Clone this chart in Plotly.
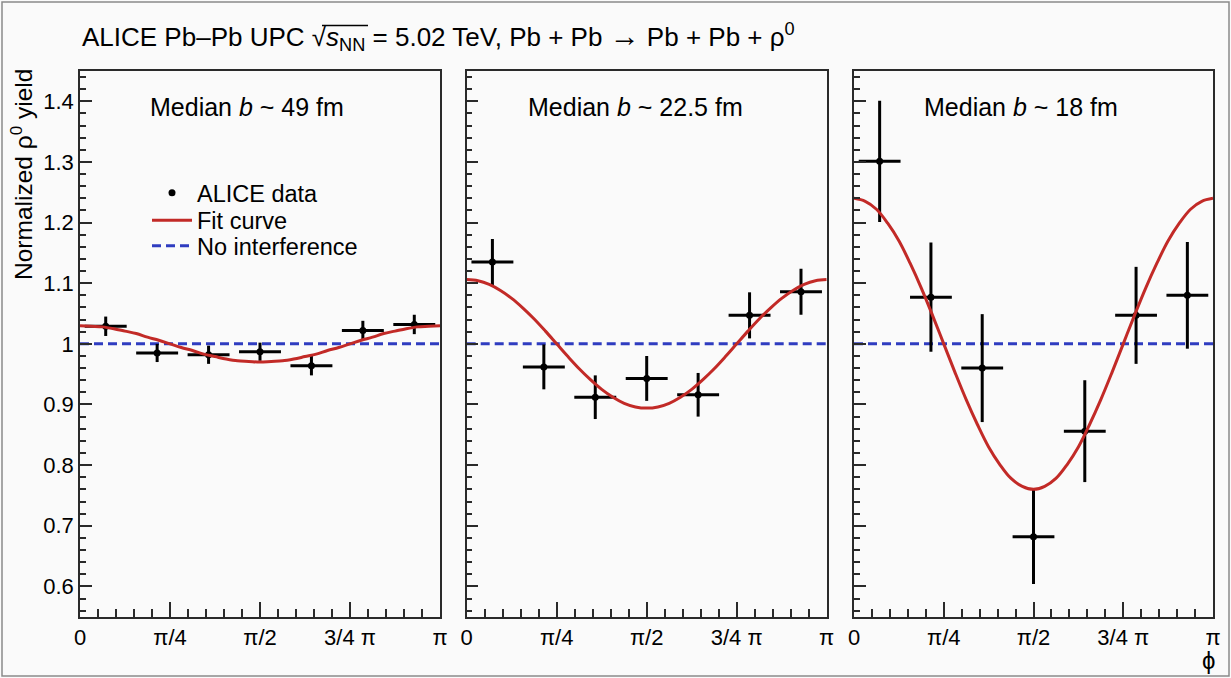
import math
import plotly.graph_objects as go

# ---------------- data ----------------
# bin centres, in units of pi (7 bins over [0, pi])
BIN_CENTERS_PI = [1/14, 3/14, 5/14, 7/14, 9/14, 11/14, 13/14]
BIN_HALF_WIDTH = 0.183  # horizontal bar half-length (rad)

Y_49 = [1.029, 0.985, 0.982, 0.987, 0.964, 1.022, 1.032]
E_49 = [0.016, 0.015, 0.015, 0.015, 0.016, 0.016, 0.016]

Y_225 = [1.135, 0.962, 0.912, 0.943, 0.916, 1.047, 1.086]
E_225 = [0.038, 0.037, 0.036, 0.037, 0.036, 0.038, 0.038]

Y_18 = [1.301, 1.077, 0.960, 0.682, 0.856, 1.047, 1.080]
E_18 = [0.100, 0.090, 0.089, 0.078, 0.084, 0.080, 0.088]

# fit curves at phi = k*pi/32, k = 0..32
FIT_STEPS = list(range(33))
FIT_49 = [1.030, 1.029, 1.028, 1.025, 1.021, 1.017, 1.011, 1.006, 1.000,
          0.994, 0.989, 0.983, 0.979, 0.975, 0.972, 0.971, 0.970,
          0.971, 0.972, 0.975, 0.979, 0.983, 0.989, 0.994, 1.000,
          1.006, 1.011, 1.017, 1.021, 1.025, 1.028, 1.029, 1.030]
FIT_225 = [1.106, 1.104, 1.098, 1.088, 1.075, 1.059, 1.041, 1.021, 1.000,
           0.979, 0.959, 0.941, 0.925, 0.912, 0.902, 0.896, 0.894,
           0.896, 0.902, 0.912, 0.925, 0.941, 0.959, 0.979, 1.000,
           1.021, 1.041, 1.059, 1.075, 1.088, 1.098, 1.104, 1.106]
FIT_18 = [1.240, 1.235, 1.222, 1.199, 1.170, 1.133, 1.092, 1.047, 1.000,
          0.953, 0.908, 0.867, 0.830, 0.801, 0.778, 0.765, 0.760,
          0.765, 0.778, 0.801, 0.830, 0.867, 0.908, 0.953, 1.000,
          1.047, 1.092, 1.133, 1.170, 1.199, 1.222, 1.235, 1.240]

NO_INTERFERENCE = 1.0
PANEL_LABELS = ["Median <i>b</i> ~ 49 fm", "Median <i>b</i> ~ 22.5 fm", "Median <i>b</i> ~ 18 fm"]
X_TICK_PI = [0, 0.25, 0.5, 0.75, 1.0]
X_TICK_TEXT = ["0", "π/4", "π/2", "3/4 π", "π"]
Y_TICKS = [0.6, 0.7, 0.8, 0.9, 1.0, 1.1, 1.2, 1.3, 1.4]
Y_TICK_TEXT = ["0.6", "0.7", "0.8", "0.9", "1", "1.1", "1.2", "1.3", "1.4"]

# ---------------- layout helpers ----------------
W, H = 1231, 678
FONT = "Liberation Sans, Arial, Helvetica, sans-serif"
RED = "#c22a27"
BLUE = "#2f3cc0"
FRAME = "#2a2a2a"
BG = "#fafafa"

panels_px = [(80, 440), (466.7, 826.7), (854, 1213)]
y_top_px, y_bot_px = 71, 616.7

series = [(Y_49, E_49, FIT_49), (Y_225, E_225, FIT_225), (Y_18, E_18, FIT_18)]

fig = go.Figure()
bin_x = [c * math.pi for c in BIN_CENTERS_PI]
fit_x = [k * math.pi / 32 for k in FIT_STEPS]

for i, (yv, ev, fv) in enumerate(series):
    xa = "x" if i == 0 else f"x{i+1}"
    ya = "y" if i == 0 else f"y{i+1}"
    first = i == 0
    fig.add_trace(go.Scatter(
        x=[0, math.pi], y=[NO_INTERFERENCE, NO_INTERFERENCE], mode="lines",
        line=dict(color=BLUE, width=3, dash="9px,5px"),
        name="No interference", showlegend=first, legend="legend3",
        xaxis=xa, yaxis=ya, hoverinfo="skip"))
    fig.add_trace(go.Scatter(
        x=bin_x, y=yv, mode="markers",
        marker=dict(color="black", size=7, symbol="circle"),
        error_y=dict(type="data", array=ev, color="black", thickness=3, width=0),
        error_x=dict(type="constant", value=BIN_HALF_WIDTH, color="black", thickness=3, width=0),
        name="ALICE data", showlegend=first, legend="legend",
        xaxis=xa, yaxis=ya))
    fig.add_trace(go.Scatter(
        x=fit_x, y=fv, mode="lines", line=dict(color=RED, width=3, shape="spline", smoothing=1.0),
        name="Fit curve", showlegend=first, legend="legend2",
        xaxis=xa, yaxis=ya, hoverinfo="skip"))

def legend_at(ypx):
    return dict(x=147 / W, y=1 - ypx / H, xanchor="left", yanchor="middle",
                bgcolor="rgba(0,0,0,0)", font=dict(size=23.5, family=FONT), itemwidth=40)

layout = dict(
    width=W, height=H,
    margin=dict(l=0, r=0, t=0, b=0, autoexpand=False),
    paper_bgcolor=BG, plot_bgcolor=BG,
    font=dict(family=FONT, size=22, color="black"),
    showlegend=True,
    legend=legend_at(193),
    legend2=legend_at(220.5),
    legend3=legend_at(246),
)

for i, (x0, x1) in enumerate(panels_px):
    xk = "xaxis" if i == 0 else f"xaxis{i+1}"
    yk = "yaxis" if i == 0 else f"yaxis{i+1}"
    xa = "x" if i == 0 else f"x{i+1}"
    ya = "y" if i == 0 else f"y{i+1}"
    layout[xk] = dict(
        domain=[x0 / W, x1 / W], anchor=ya, range=[0, math.pi],
        tickmode="array", tickvals=[t * math.pi for t in X_TICK_PI], ticktext=X_TICK_TEXT,
        ticks="inside", ticklen=15, tickwidth=1.5, tickcolor=FRAME,
        minor=dict(tickmode="linear", tick0=0, dtick=math.pi / 20, ticks="inside",
                   ticklen=8, tickwidth=1.5, tickcolor=FRAME, showgrid=False),
        showline=True, linecolor=FRAME, linewidth=1.5, mirror=True,
        showgrid=False, zeroline=False, automargin=False,
        tickfont=dict(size=22, family=FONT),
    )
    layout[yk] = dict(
        domain=[1 - y_bot_px / H, 1 - y_top_px / H], anchor=xa, range=[0.55, 1.45],
        tickmode="array", tickvals=Y_TICKS, ticktext=Y_TICK_TEXT,
        showticklabels=(i == 0),
        ticks="inside", ticklen=12, tickwidth=1.5, tickcolor=FRAME,
        minor=dict(tickmode="linear", tick0=0.5, dtick=0.02, ticks="inside",
                   ticklen=6, tickwidth=1.5, tickcolor=FRAME, showgrid=False),
        showline=True, linecolor=FRAME, linewidth=1.5, mirror=True,
        showgrid=False, zeroline=False, automargin=False,
        tickfont=dict(size=22, family=FONT),
    )

fig.update_layout(**layout)

annotations = []
label_x_px = [148, 525.7, 921.7]
for i, txt in enumerate(PANEL_LABELS):
    annotations.append(dict(text=txt, x=label_x_px[i] / W, y=1 - 107 / H, xref="paper", yref="paper",
                            xanchor="left", yanchor="middle", showarrow=False,
                            font=dict(size=25, family=FONT)))
annotations.append(dict(
    text=("ALICE Pb–Pb UPC √<i>s</i><sub>NN</sub> = 5.02 TeV, Pb + Pb "
          "<span style='font-size:30px'>→</span> Pb + Pb + ρ<sup>0</sup>"),
    x=80 / W, y=1 - 37 / H, xref="paper", yref="paper", xanchor="left", yanchor="middle",
    showarrow=False, font=dict(size=26, family=FONT)))
annotations.append(dict(
    text="Normalized ρ<sup>0</sup> yield", textangle=-90,
    x=22 / W, y=1 - 175 / H, xref="paper", yref="paper", xanchor="center", yanchor="middle",
    showarrow=False, font=dict(size=24.5, family=FONT)))
annotations.append(dict(
    text="ϕ", x=1208 / W, y=1 - 660 / H, xref="paper", yref="paper",
    xanchor="center", yanchor="middle", showarrow=False, font=dict(size=24, family=FONT)))
fig.update_layout(annotations=annotations)

# outer picture border
fig.add_shape(type="rect", xref="paper", yref="paper", x0=2 / W, y0=2 / H, x1=1 - 2 / W, y1=1 - 2 / H,
              line=dict(color="#8a8a8a", width=1.5), fillcolor="rgba(0,0,0,0)", layer="below")
# overbar of the square-root sign in the title
fig.add_shape(type="line", xref="paper", yref="paper", x0=322 / W, x1=368 / W,
              y0=1 - 25.5 / H, y1=1 - 25.5 / H, line=dict(color="black", width=1.3))

fig.write_html("out.html", config={"displayModeBar": False},
               post_script="document.body.style.margin='0';document.body.style.overflow='hidden';")
